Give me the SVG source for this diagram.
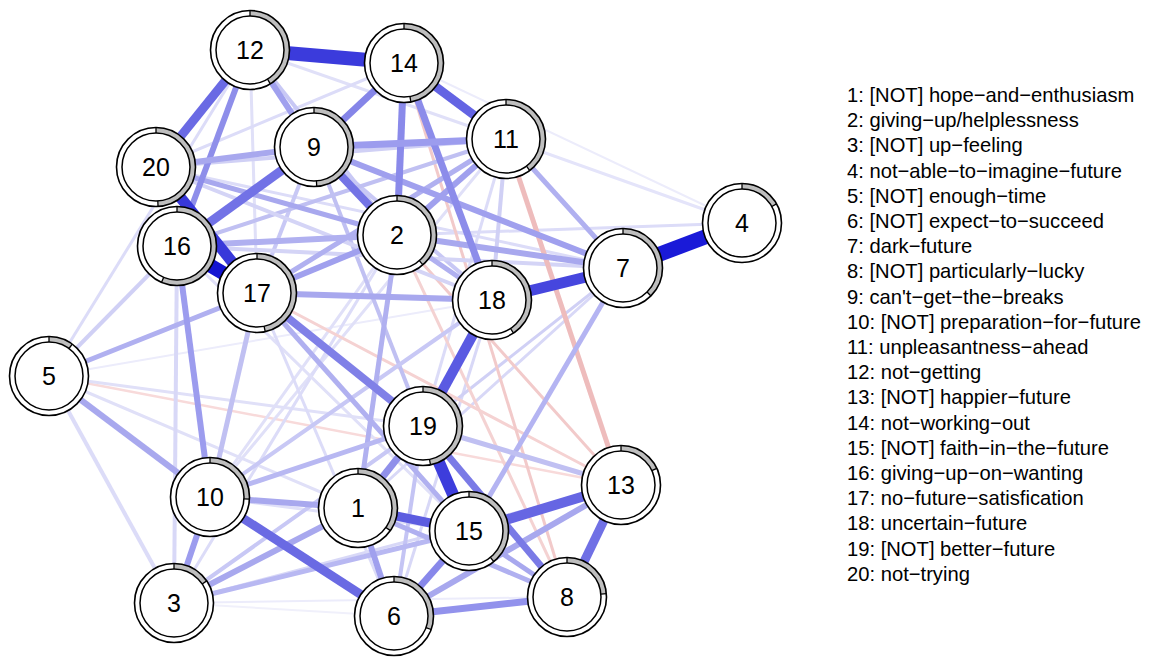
<svg xmlns="http://www.w3.org/2000/svg" width="1151" height="658" viewBox="0 0 1151 658">
<style>
.edges line{fill:none;stroke-linecap:butt}
.bg{fill:#fff}
.pie{fill:none;stroke:#bebebe;stroke-width:5.5}
.ol{fill:none;stroke:#000;stroke-width:1.6}
.in{fill:#fff;stroke:#000;stroke-width:1.5}
.tk{stroke:#000;stroke-width:1.3}
.lbl{font-family:"Liberation Sans",Arial,sans-serif;font-size:25px;text-anchor:middle;fill:#000}
.leg{font-family:"Liberation Sans",Arial,sans-serif;font-size:20.2px;fill:#000}
</style>
<rect width="1151" height="658" fill="#fff"/>
<g id="edges" class="edges">
<line x1="49" y1="376" x2="492" y2="300" stroke="#ececfb" stroke-width="2"/>
<line x1="174" y1="603" x2="394" y2="616" stroke="#f0f0fb" stroke-width="2"/>
<line x1="174" y1="603" x2="567" y2="597" stroke="#ececfb" stroke-width="2"/>
<line x1="404" y1="63" x2="742" y2="223" stroke="#ececfb" stroke-width="2"/>
<line x1="49" y1="376" x2="621" y2="485" stroke="#f8dada" stroke-width="2.5"/>
<line x1="49" y1="376" x2="250" y2="50" stroke="#dcdcf8" stroke-width="3"/>
<line x1="49" y1="376" x2="423" y2="426" stroke="#e0e0f8" stroke-width="3"/>
<line x1="49" y1="376" x2="358" y2="508" stroke="#e0e0f8" stroke-width="3"/>
<line x1="506" y1="139" x2="742" y2="223" stroke="#e4e4fa" stroke-width="3"/>
<line x1="506" y1="139" x2="423" y2="426" stroke="#dcdcf8" stroke-width="3"/>
<line x1="506" y1="139" x2="210" y2="497" stroke="#e0e0f8" stroke-width="3"/>
<line x1="397" y1="235" x2="742" y2="223" stroke="#dcdcf8" stroke-width="3"/>
<line x1="397" y1="235" x2="174" y2="603" stroke="#dcdcf8" stroke-width="3"/>
<line x1="397" y1="235" x2="210" y2="497" stroke="#e0e0f8" stroke-width="3"/>
<line x1="177" y1="246" x2="469" y2="531" stroke="#e0e0f8" stroke-width="3"/>
<line x1="156" y1="167" x2="623" y2="268" stroke="#dcdcf8" stroke-width="3"/>
<line x1="210" y1="497" x2="469" y2="531" stroke="#e0e0f8" stroke-width="3"/>
<line x1="174" y1="603" x2="621" y2="485" stroke="#d8d8f7" stroke-width="3"/>
<line x1="394" y1="616" x2="492" y2="300" stroke="#d8d8f7" stroke-width="3"/>
<line x1="394" y1="616" x2="257" y2="293" stroke="#dcdcf8" stroke-width="3"/>
<line x1="423" y1="426" x2="623" y2="268" stroke="#d0d0f5" stroke-width="3"/>
<line x1="623" y1="268" x2="358" y2="508" stroke="#d8d8f7" stroke-width="3"/>
<line x1="250" y1="50" x2="506" y2="139" stroke="#e0e0f8" stroke-width="3"/>
<line x1="250" y1="50" x2="257" y2="293" stroke="#e0e0f8" stroke-width="3"/>
<line x1="404" y1="63" x2="156" y2="167" stroke="#dcdcf8" stroke-width="3"/>
<line x1="397" y1="235" x2="621" y2="485" stroke="#f2caca" stroke-width="3"/>
<line x1="397" y1="235" x2="567" y2="597" stroke="#f4d2d2" stroke-width="3"/>
<line x1="257" y1="293" x2="621" y2="485" stroke="#f5d2d2" stroke-width="3"/>
<line x1="404" y1="63" x2="567" y2="597" stroke="#f2caca" stroke-width="3"/>
<line x1="250" y1="50" x2="397" y2="235" stroke="#c8c8f5" stroke-width="4"/>
<line x1="314" y1="147" x2="257" y2="293" stroke="#c8c8f5" stroke-width="4"/>
<line x1="314" y1="147" x2="423" y2="426" stroke="#c0c0f2" stroke-width="4"/>
<line x1="314" y1="147" x2="492" y2="300" stroke="#c8c8f5" stroke-width="4"/>
<line x1="506" y1="139" x2="177" y2="246" stroke="#c0c0f2" stroke-width="4"/>
<line x1="506" y1="139" x2="492" y2="300" stroke="#d0d0f5" stroke-width="4"/>
<line x1="177" y1="246" x2="174" y2="603" stroke="#d8d8f7" stroke-width="4"/>
<line x1="177" y1="246" x2="623" y2="268" stroke="#d4d4f6" stroke-width="4"/>
<line x1="49" y1="376" x2="177" y2="246" stroke="#d0d0f5" stroke-width="4"/>
<line x1="49" y1="376" x2="174" y2="603" stroke="#dcdcf8" stroke-width="4"/>
<line x1="210" y1="497" x2="492" y2="300" stroke="#c8c8f5" stroke-width="4"/>
<line x1="174" y1="603" x2="423" y2="426" stroke="#c8c8f5" stroke-width="4"/>
<line x1="394" y1="616" x2="423" y2="426" stroke="#c4c4f4" stroke-width="4"/>
<line x1="156" y1="167" x2="506" y2="139" stroke="#d0d0f5" stroke-width="4"/>
<line x1="156" y1="167" x2="492" y2="300" stroke="#d4d4f6" stroke-width="4"/>
<line x1="506" y1="139" x2="621" y2="485" stroke="#eebcbc" stroke-width="5"/>
<line x1="506" y1="139" x2="257" y2="293" stroke="#b0b0f0" stroke-width="5"/>
<line x1="506" y1="139" x2="623" y2="268" stroke="#b0b0f0" stroke-width="5"/>
<line x1="397" y1="235" x2="156" y2="167" stroke="#a8a8ee" stroke-width="5"/>
<line x1="397" y1="235" x2="492" y2="300" stroke="#b0b0f0" stroke-width="5"/>
<line x1="397" y1="235" x2="358" y2="508" stroke="#b0b0f0" stroke-width="5"/>
<line x1="257" y1="293" x2="469" y2="531" stroke="#b0b0f0" stroke-width="5"/>
<line x1="257" y1="293" x2="210" y2="497" stroke="#c0c0f2" stroke-width="5"/>
<line x1="49" y1="376" x2="257" y2="293" stroke="#b0b0f0" stroke-width="5"/>
<line x1="210" y1="497" x2="423" y2="426" stroke="#b8b8f2" stroke-width="5"/>
<line x1="174" y1="603" x2="469" y2="531" stroke="#b8b8f2" stroke-width="5"/>
<line x1="567" y1="597" x2="469" y2="531" stroke="#a8a8ee" stroke-width="5"/>
<line x1="567" y1="597" x2="358" y2="508" stroke="#b0b0f0" stroke-width="5"/>
<line x1="469" y1="531" x2="623" y2="268" stroke="#b4b4f2" stroke-width="5"/>
<line x1="423" y1="426" x2="621" y2="485" stroke="#c0c0f2" stroke-width="5"/>
<line x1="250" y1="50" x2="177" y2="246" stroke="#8e8eea" stroke-width="6"/>
<line x1="250" y1="50" x2="314" y2="147" stroke="#a0a0ee" stroke-width="6"/>
<line x1="314" y1="147" x2="156" y2="167" stroke="#a8a8ee" stroke-width="6"/>
<line x1="314" y1="147" x2="623" y2="268" stroke="#a0a0ee" stroke-width="6"/>
<line x1="506" y1="139" x2="397" y2="235" stroke="#a0a0ee" stroke-width="6"/>
<line x1="397" y1="235" x2="177" y2="246" stroke="#b0b0f0" stroke-width="6"/>
<line x1="397" y1="235" x2="257" y2="293" stroke="#a0a0ee" stroke-width="6"/>
<line x1="397" y1="235" x2="623" y2="268" stroke="#a8a8ee" stroke-width="6"/>
<line x1="257" y1="293" x2="492" y2="300" stroke="#a8a8ee" stroke-width="6"/>
<line x1="177" y1="246" x2="210" y2="497" stroke="#9c9cee" stroke-width="6"/>
<line x1="49" y1="376" x2="210" y2="497" stroke="#a8a8ee" stroke-width="6"/>
<line x1="210" y1="497" x2="358" y2="508" stroke="#a8a8ee" stroke-width="6"/>
<line x1="210" y1="497" x2="174" y2="603" stroke="#9c9cee" stroke-width="6"/>
<line x1="174" y1="603" x2="358" y2="508" stroke="#a8a8ee" stroke-width="6"/>
<line x1="394" y1="616" x2="358" y2="508" stroke="#a0a0ee" stroke-width="6"/>
<line x1="394" y1="616" x2="621" y2="485" stroke="#a8a8ee" stroke-width="6"/>
<line x1="423" y1="426" x2="567" y2="597" stroke="#7a7ae6" stroke-width="7"/>
<line x1="394" y1="616" x2="567" y2="597" stroke="#9292ec" stroke-width="7"/>
<line x1="404" y1="63" x2="397" y2="235" stroke="#8a8aea" stroke-width="7"/>
<line x1="404" y1="63" x2="492" y2="300" stroke="#8c8cea" stroke-width="7"/>
<line x1="404" y1="63" x2="314" y2="147" stroke="#8585e8" stroke-width="7"/>
<line x1="314" y1="147" x2="506" y2="139" stroke="#9c9cee" stroke-width="7"/>
<line x1="394" y1="616" x2="469" y2="531" stroke="#8888ea" stroke-width="7"/>
<line x1="358" y1="508" x2="423" y2="426" stroke="#9090ea" stroke-width="7"/>
<line x1="358" y1="508" x2="469" y2="531" stroke="#5c5ce0" stroke-width="9"/>
<line x1="621" y1="485" x2="567" y2="597" stroke="#7070e5" stroke-width="9"/>
<line x1="210" y1="497" x2="394" y2="616" stroke="#6a6ae3" stroke-width="9"/>
<line x1="257" y1="293" x2="423" y2="426" stroke="#8080e7" stroke-width="8"/>
<line x1="314" y1="147" x2="397" y2="235" stroke="#7474e5" stroke-width="8"/>
<line x1="156" y1="167" x2="250" y2="50" stroke="#6a6ae4" stroke-width="9"/>
<line x1="314" y1="147" x2="177" y2="246" stroke="#7272e6" stroke-width="9"/>
<line x1="404" y1="63" x2="506" y2="139" stroke="#6464e3" stroke-width="9"/>
<line x1="469" y1="531" x2="621" y2="485" stroke="#6666e3" stroke-width="10"/>
<line x1="492" y1="300" x2="623" y2="268" stroke="#4646de" stroke-width="11"/>
<line x1="423" y1="426" x2="492" y2="300" stroke="#5a5ae2" stroke-width="10"/>
<line x1="156" y1="167" x2="257" y2="293" stroke="#3838da" stroke-width="11"/>
<line x1="423" y1="426" x2="469" y2="531" stroke="#3d3ddc" stroke-width="12"/>
<line x1="177" y1="246" x2="257" y2="293" stroke="#1414d2" stroke-width="14"/>
<line x1="250" y1="50" x2="404" y2="63" stroke="#3b3bdc" stroke-width="14"/>
<line x1="742" y1="223" x2="623" y2="268" stroke="#1a1ad8" stroke-width="15"/>
</g>
<g id="n1" transform="translate(358,508)"><circle class="bg" r="39.5"/><circle class="pie" r="36.75" pathLength="360" stroke-dasharray="125 360" transform="rotate(-90)"/><circle class="ol" r="39.5"/><circle class="in" r="34"/><line class="tk" y1="-34" y2="-39.5"/><line class="tk" y1="-34" y2="-39.5" transform="rotate(125)"/><text class="lbl" y="9">1</text></g>
<g id="n2" transform="translate(397,235)"><circle class="bg" r="39.5"/><circle class="pie" r="36.75" pathLength="360" stroke-dasharray="139 360" transform="rotate(-90)"/><circle class="ol" r="39.5"/><circle class="in" r="34"/><line class="tk" y1="-34" y2="-39.5"/><line class="tk" y1="-34" y2="-39.5" transform="rotate(139)"/><text class="lbl" y="9">2</text></g>
<g id="n3" transform="translate(174,603)"><circle class="bg" r="39.5"/><circle class="pie" r="36.75" pathLength="360" stroke-dasharray="56 360" transform="rotate(-90)"/><circle class="ol" r="39.5"/><circle class="in" r="34"/><line class="tk" y1="-34" y2="-39.5"/><line class="tk" y1="-34" y2="-39.5" transform="rotate(56)"/><text class="lbl" y="9">3</text></g>
<g id="n4" transform="translate(742,223)"><circle class="bg" r="39.5"/><circle class="pie" r="36.75" pathLength="360" stroke-dasharray="61 360" transform="rotate(-90)"/><circle class="ol" r="39.5"/><circle class="in" r="34"/><line class="tk" y1="-34" y2="-39.5"/><line class="tk" y1="-34" y2="-39.5" transform="rotate(61)"/><text class="lbl" y="9">4</text></g>
<g id="n5" transform="translate(49,376)"><circle class="bg" r="39.5"/><circle class="pie" r="36.75" pathLength="360" stroke-dasharray="36 360" transform="rotate(-90)"/><circle class="ol" r="39.5"/><circle class="in" r="34"/><line class="tk" y1="-34" y2="-39.5"/><line class="tk" y1="-34" y2="-39.5" transform="rotate(36)"/><text class="lbl" y="9">5</text></g>
<g id="n6" transform="translate(394,616)"><circle class="bg" r="39.5"/><circle class="pie" r="36.75" pathLength="360" stroke-dasharray="110 360" transform="rotate(-90)"/><circle class="ol" r="39.5"/><circle class="in" r="34"/><line class="tk" y1="-34" y2="-39.5"/><line class="tk" y1="-34" y2="-39.5" transform="rotate(110)"/><text class="lbl" y="9">6</text></g>
<g id="n7" transform="translate(623,268)"><circle class="bg" r="39.5"/><circle class="pie" r="36.75" pathLength="360" stroke-dasharray="135 360" transform="rotate(-90)"/><circle class="ol" r="39.5"/><circle class="in" r="34"/><line class="tk" y1="-34" y2="-39.5"/><line class="tk" y1="-34" y2="-39.5" transform="rotate(135)"/><text class="lbl" y="9">7</text></g>
<g id="n8" transform="translate(567,597)"><circle class="bg" r="39.5"/><circle class="pie" r="36.75" pathLength="360" stroke-dasharray="85 360" transform="rotate(-90)"/><circle class="ol" r="39.5"/><circle class="in" r="34"/><line class="tk" y1="-34" y2="-39.5"/><line class="tk" y1="-34" y2="-39.5" transform="rotate(85)"/><text class="lbl" y="9">8</text></g>
<g id="n9" transform="translate(314,147)"><circle class="bg" r="39.5"/><circle class="pie" r="36.75" pathLength="360" stroke-dasharray="176 360" transform="rotate(-90)"/><circle class="ol" r="39.5"/><circle class="in" r="34"/><line class="tk" y1="-34" y2="-39.5"/><line class="tk" y1="-34" y2="-39.5" transform="rotate(176)"/><text class="lbl" y="9">9</text></g>
<g id="n10" transform="translate(210,497)"><circle class="bg" r="39.5"/><circle class="pie" r="36.75" pathLength="360" stroke-dasharray="93 360" transform="rotate(-90)"/><circle class="ol" r="39.5"/><circle class="in" r="34"/><line class="tk" y1="-34" y2="-39.5"/><line class="tk" y1="-34" y2="-39.5" transform="rotate(93)"/><text class="lbl" y="9">10</text></g>
<g id="n11" transform="translate(506,139)"><circle class="bg" r="39.5"/><circle class="pie" r="36.75" pathLength="360" stroke-dasharray="143 360" transform="rotate(-90)"/><circle class="ol" r="39.5"/><circle class="in" r="34"/><line class="tk" y1="-34" y2="-39.5"/><line class="tk" y1="-34" y2="-39.5" transform="rotate(143)"/><text class="lbl" y="9">11</text></g>
<g id="n12" transform="translate(250,50)"><circle class="bg" r="39.5"/><circle class="pie" r="36.75" pathLength="360" stroke-dasharray="149 360" transform="rotate(-90)"/><circle class="ol" r="39.5"/><circle class="in" r="34"/><line class="tk" y1="-34" y2="-39.5"/><line class="tk" y1="-34" y2="-39.5" transform="rotate(149)"/><text class="lbl" y="9">12</text></g>
<g id="n13" transform="translate(621,485)"><circle class="bg" r="39.5"/><circle class="pie" r="36.75" pathLength="360" stroke-dasharray="65 360" transform="rotate(-90)"/><circle class="ol" r="39.5"/><circle class="in" r="34"/><line class="tk" y1="-34" y2="-39.5"/><line class="tk" y1="-34" y2="-39.5" transform="rotate(65)"/><text class="lbl" y="9">13</text></g>
<g id="n14" transform="translate(404,63)"><circle class="bg" r="39.5"/><circle class="pie" r="36.75" pathLength="360" stroke-dasharray="170 360" transform="rotate(-90)"/><circle class="ol" r="39.5"/><circle class="in" r="34"/><line class="tk" y1="-34" y2="-39.5"/><line class="tk" y1="-34" y2="-39.5" transform="rotate(170)"/><text class="lbl" y="9">14</text></g>
<g id="n15" transform="translate(469,531)"><circle class="bg" r="39.5"/><circle class="pie" r="36.75" pathLength="360" stroke-dasharray="141 360" transform="rotate(-90)"/><circle class="ol" r="39.5"/><circle class="in" r="34"/><line class="tk" y1="-34" y2="-39.5"/><line class="tk" y1="-34" y2="-39.5" transform="rotate(141)"/><text class="lbl" y="9">15</text></g>
<g id="n16" transform="translate(177,246)"><circle class="bg" r="39.5"/><circle class="pie" r="36.75" pathLength="360" stroke-dasharray="203 360" transform="rotate(-90)"/><circle class="ol" r="39.5"/><circle class="in" r="34"/><line class="tk" y1="-34" y2="-39.5"/><line class="tk" y1="-34" y2="-39.5" transform="rotate(203)"/><text class="lbl" y="9">16</text></g>
<g id="n17" transform="translate(257,293)"><circle class="bg" r="39.5"/><circle class="pie" r="36.75" pathLength="360" stroke-dasharray="168 360" transform="rotate(-90)"/><circle class="ol" r="39.5"/><circle class="in" r="34"/><line class="tk" y1="-34" y2="-39.5"/><line class="tk" y1="-34" y2="-39.5" transform="rotate(168)"/><text class="lbl" y="9">17</text></g>
<g id="n18" transform="translate(492,300)"><circle class="bg" r="39.5"/><circle class="pie" r="36.75" pathLength="360" stroke-dasharray="147 360" transform="rotate(-90)"/><circle class="ol" r="39.5"/><circle class="in" r="34"/><line class="tk" y1="-34" y2="-39.5"/><line class="tk" y1="-34" y2="-39.5" transform="rotate(147)"/><text class="lbl" y="9">18</text></g>
<g id="n19" transform="translate(423,426)"><circle class="bg" r="39.5"/><circle class="pie" r="36.75" pathLength="360" stroke-dasharray="169 360" transform="rotate(-90)"/><circle class="ol" r="39.5"/><circle class="in" r="34"/><line class="tk" y1="-34" y2="-39.5"/><line class="tk" y1="-34" y2="-39.5" transform="rotate(169)"/><text class="lbl" y="9">19</text></g>
<g id="n20" transform="translate(156,167)"><circle class="bg" r="39.5"/><circle class="pie" r="36.75" pathLength="360" stroke-dasharray="177 360" transform="rotate(-90)"/><circle class="ol" r="39.5"/><circle class="in" r="34"/><line class="tk" y1="-34" y2="-39.5"/><line class="tk" y1="-34" y2="-39.5" transform="rotate(177)"/><text class="lbl" y="9">20</text></g>
<g id="legend" class="leg">
<text x="847" y="102">1: [NOT] hope−and−enthusiasm</text>
<text x="847" y="127.2">2: giving−up/helplessness</text>
<text x="847" y="152.4">3: [NOT] up−feeling</text>
<text x="847" y="177.6">4: not−able−to−imagine−future</text>
<text x="847" y="202.8">5: [NOT] enough−time</text>
<text x="847" y="228">6: [NOT] expect−to−succeed</text>
<text x="847" y="253.2">7: dark−future</text>
<text x="847" y="278.4">8: [NOT] particularly−lucky</text>
<text x="847" y="303.6">9: can't−get−the−breaks</text>
<text x="847" y="328.8">10: [NOT] preparation−for−future</text>
<text x="847" y="354">11: unpleasantness−ahead</text>
<text x="847" y="379.2">12: not−getting</text>
<text x="847" y="404.4">13: [NOT] happier−future</text>
<text x="847" y="429.6">14: not−working−out</text>
<text x="847" y="454.8">15: [NOT] faith−in−the−future</text>
<text x="847" y="480">16: giving−up−on−wanting</text>
<text x="847" y="505.2">17: no−future−satisfication</text>
<text x="847" y="530.4">18: uncertain−future</text>
<text x="847" y="555.6">19: [NOT] better−future</text>
<text x="847" y="580.8">20: not−trying</text>
</g>
</svg>
